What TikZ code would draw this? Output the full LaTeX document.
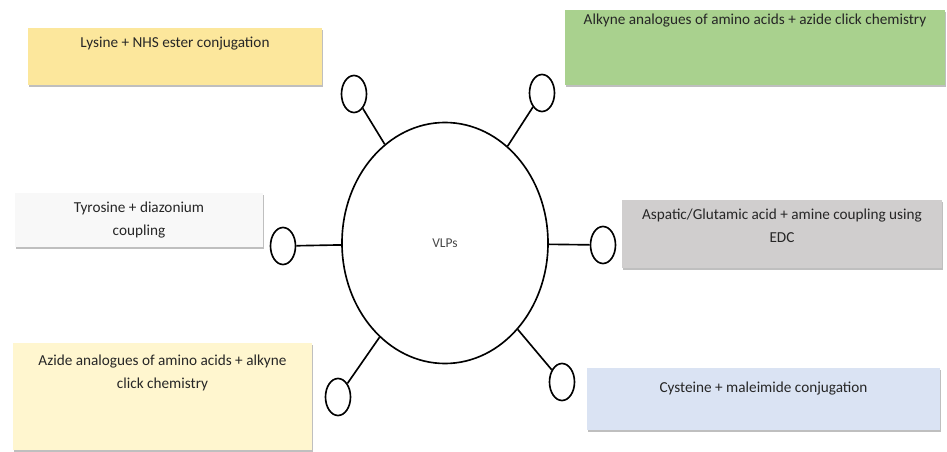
\documentclass[tikz,border=0pt]{standalone}
\usepackage{fontspec}
\setmainfont{Carlito}
\usepackage{tikz}
\usetikzlibrary{shapes.geometric,shadows}

\definecolor{lysfill}{HTML}{FCE79C}
\definecolor{alkfill}{HTML}{A9D18E}
\definecolor{tyrfill}{HTML}{F8F8F8}
\definecolor{aspfill}{HTML}{D0CECE}
\definecolor{azifill}{HTML}{FFF6CF}
\definecolor{cysfill}{HTML}{DAE3F3}
\definecolor{txtgray}{HTML}{262626}

\tikzset{
    panel/.style={rectangle, inner sep=0pt,
        drop shadow={shadow xshift=0.6pt, shadow yshift=-1.6pt, opacity=0.5}},
    txt/.style={inner sep=0pt, align=center, text=txtgray,
        font=\fontsize{13}{19.5}\selectfont},
    knob/.style={ellipse, draw, line width=1.4pt, minimum width=0.75cm, minimum height=1.11cm, inner sep=0pt},
    stalk/.style={line width=1.4pt}
}

\begin{document}
\begin{tikzpicture}[x=0.03cm, y=-0.03cm]
    \useasboundingbox (0,0) rectangle (947,452);

    % Boxes
    \node[panel, fill=lysfill, minimum width=8.82cm, minimum height=1.71cm] (lys) at (175,56.5) {};
    \node[panel, fill=alkfill, minimum width=11.4cm, minimum height=2.25cm] (alk) at (755,47.5) {};
    \node[panel, fill=tyrfill, minimum width=7.44cm, minimum height=1.62cm] (tyr) at (139,220) {};
    \node[panel, fill=aspfill, minimum width=9.6cm, minimum height=2.04cm] (asp) at (782,234) {};
    \node[panel, fill=azifill, minimum width=8.97cm, minimum height=3.21cm] (azi) at (162.5,396.5) {};
    \node[panel, fill=cysfill, minimum width=10.59cm, minimum height=1.86cm] (cys) at (763.5,399) {};

    % Box texts
    \node[txt, anchor=north] (lystxt) at ([yshift=-0.28cm]lys.north) {Lysine + NHS ester conjugation};
    \node[txt, anchor=north] (alktxt) at ([yshift=-0.13cm]alk.north) {Alkyne analogues of amino acids + azide click chemistry};
    \node[txt] (tyrtxt) at (tyr) {Tyrosine + diazonium\\coupling};
    \node[txt, anchor=north] (asptxt) at ([yshift=-0.28cm]asp.north) {Aspatic/Glutamic acid + amine coupling using\\EDC};
    \node[txt, anchor=north] (azitxt) at ([yshift=-0.37cm]azi.north) {Azide analogues of amino acids + alkyne\\click chemistry};
    \node[txt, anchor=north] (cystxt) at ([yshift=-0.43cm]cys.north) {Cysteine + maleimide conjugation};

    % Particle
    \node[ellipse, draw, line width=1.4pt, minimum width=6.18cm, minimum height=7.23cm,
        text=txtgray!85, font=\fontsize{11.5}{13}\selectfont] (vlp) at (445,243) {VLPs};

    % Knobs
    \node[knob] (k1) at (354,94) {};
    \node[knob] (k2) at (542,93) {};
    \node[knob] (k3) at (283,246) {};
    \node[knob] (k4) at (603,245) {};
    \node[knob] (k5) at (338,397) {};
    \node[knob] (k6) at (562,382) {};

    % Stalks
    \foreach \k in {k1,k2,k3,k4,k5,k6}
        \draw[stalk] (vlp) -- (\k);
\end{tikzpicture}
\end{document}
